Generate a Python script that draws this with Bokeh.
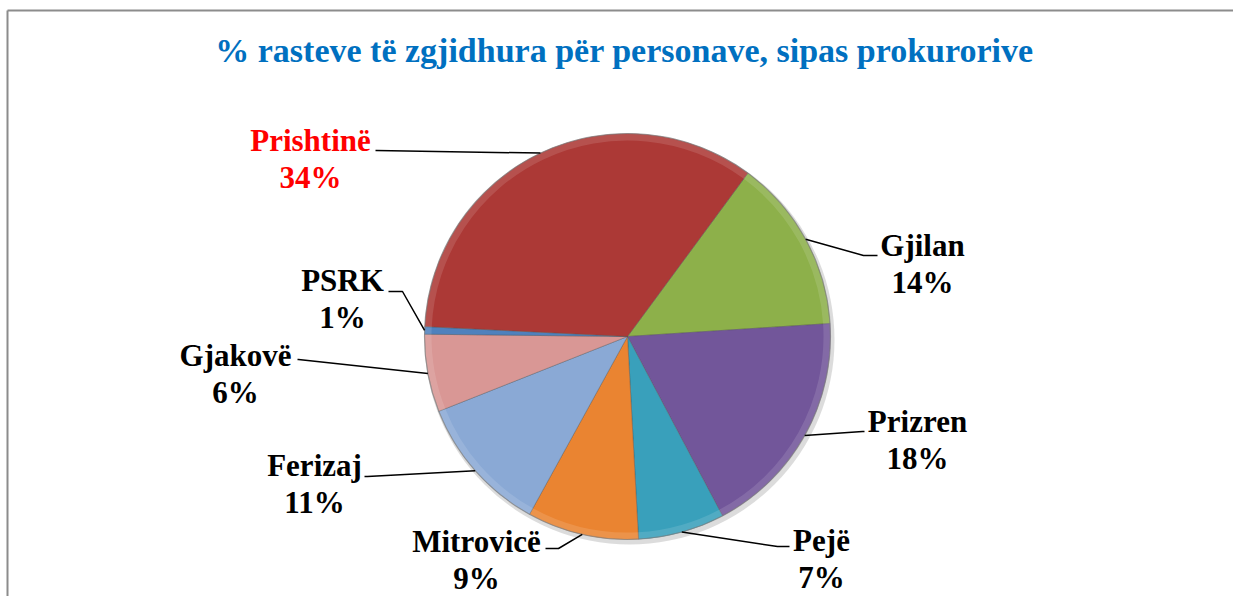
import math
from bokeh.plotting import figure
from bokeh.models import Range1d, ColumnDataSource
from bokeh.core.properties import value
from bokeh.embed import file_html
from bokeh.resources import INLINE

# ---- data ----
regions = ["Gjilan", "Prizren", "Pejë", "Mitrovicë", "Ferizaj", "Gjakovë", "PSRK", "Prishtinë"]
shares = [13.9, 18.3, 6.9, 8.9, 11.0, 6.2, 0.6, 34.4]
title_text = "% rasteve të zgjidhura për personave, sipas prokurorive"

# ---- style / layout ----
colors = ["#8DB04A", "#72569A", "#39A0BB", "#EA8431", "#8AA9D5", "#D99795", "#4F81BD", "#AC3936"]
name_colors = ["black"] * 7 + ["#FF0000"]
W, H = 1233, 596
def fx(x): return x
def fy(y): return H - y

cx, cy, R = fx(627), fy(336), 203
start_deg = 36.4  # clockwise from 12 o'clock

# label centres (page coords), name line; percent line is below
lab_pos = [(922, 245), (917, 421), (821, 540), (476, 541), (314, 465), (235, 355), (342, 280), (310, 140)]
line_gap = 37
# leader elbow and end (page coords)
elbows = [(863, 255), (862, 431), (777, 546), (558, 548), (367, 476), (298, 359), (402, 291), (376, 150)]
ends = [(877, 255), (864, 431), (789, 546), (545, 548), (364, 476), (297, 359), (388, 291), (375, 150)]

p = figure(width=W, height=H, output_backend="svg", toolbar_location=None,
           x_range=Range1d(0, W), y_range=Range1d(0, H), min_border=0)
p.axis.visible = False
p.grid.visible = False
p.outline_line_color = None
p.border_fill_color = "white"
p.background_fill_color = "white"

total = sum(shares)
starts, ends_a, mids = [], [], []
acc = start_deg
for s in shares:
    a0 = acc
    a1 = acc + 360.0 * s / total
    starts.append(math.radians(90 - a0))
    ends_a.append(math.radians(90 - a1))
    mids.append((a0 + a1) / 2)
    acc = a1

# soft shadow
p.circle(x=cx + 2, y=cy - 3, radius=R + 2, fill_color="#9a9a9a", fill_alpha=0.35, line_color=None)

src = ColumnDataSource(dict(start=starts, end=ends_a, color=colors))
p.wedge(x=cx, y=cy, radius=R, start_angle="start", end_angle="end", direction="clock",
        fill_color="color", line_color="#4d4d4d", line_alpha=0.35, line_width=1, source=src)
# bevel highlight along the rim
p.annular_wedge(x=cx, y=cy, inner_radius=R - 7, outer_radius=R, start_angle="start", end_angle="end",
                direction="clock", fill_color="white", fill_alpha=0.12, line_color=None, source=src)
# subtle rim
p.circle(x=cx, y=cy, radius=R, fill_color=None, line_color="#7f7f7f", line_alpha=0.5, line_width=1.2)

# leader lines
xs, ys = [], []
for i, m in enumerate(mids):
    ex = cx + R * math.sin(math.radians(m))
    ey = cy + R * math.cos(math.radians(m))
    xs.append([ex, fx(elbows[i][0]), fx(ends[i][0])])
    ys.append([ey, fy(elbows[i][1]), fy(ends[i][1])])
p.multi_line(xs=xs, ys=ys, line_color="black", line_width=1.5)

# labels
pcts = ["%d%%" % round(s) for s in shares]
lsrc = ColumnDataSource(dict(
    x=[fx(a) for a, b in lab_pos], y=[fy(b) for a, b in lab_pos],
    y2=[fy(b + line_gap) for a, b in lab_pos],
    name=regions, pct=pcts, col=name_colors))
p.text(x="x", y="y", text="name", text_color="col", source=lsrc,
       text_font=value("Liberation Serif"), text_font_style="bold", text_font_size="31px",
       text_align="center", text_baseline="middle")
p.text(x="x", y="y2", text="pct", text_color="col", source=lsrc,
       text_font=value("Liberation Serif"), text_font_style="bold", text_font_size="31px",
       text_align="center", text_baseline="middle")

# title
p.text(x=[fx(624)], y=[fy(50)], text=[title_text], text_color="#0070C0",
       text_font=value("Liberation Serif"), text_font_style="bold", text_font_size="34px",
       text_align="center", text_baseline="middle")

# chart frame (left and top edges visible)
p.segment(x0=[fx(7), fx(7)], y0=[0, fy(10)], x1=[fx(7), W], y1=[fy(10), fy(10)],
          line_color="#8c8c8c", line_width=2)

open("out.html", "w").write(file_html(p, INLINE))
